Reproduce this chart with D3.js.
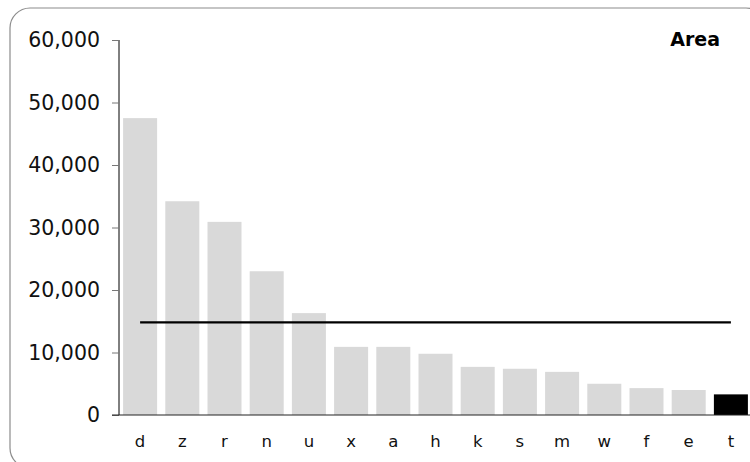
<!DOCTYPE html>
<html>
<head>
<meta charset="utf-8">
<script src="https://cdn.jsdelivr.net/npm/d3@7"></script>
<style>
  html, body { margin: 0; padding: 0; background: #fff; }
  svg { display: block; font-family: "DejaVu Sans", Verdana, sans-serif; }
</style>
</head>
<body>
<svg id="chart" width="750" height="462"></svg>
<script>
const categories = ["d","z","r","n","u","x","a","h","k","s","m","w","f","e","t"];
const areaValues = [47500,34200,30900,23000,16300,10900,10900,9800,7700,7400,6900,5000,4300,4000,3300];
const highlighted = ["t"];
const yTicks = [0,10000,20000,30000,40000,50000,60000];
const title = "Area";

const avg = d3.mean(areaValues);
const avgLine = categories.map(c => ({ cat: c, value: avg }));

const svg = d3.select("#chart");

// frame
svg.append("rect")
  .attr("x", 10).attr("y", 8)
  .attr("width", 756).attr("height", 460)
  .attr("rx", 20).attr("ry", 20)
  .attr("fill", "none")
  .attr("stroke", "#8c8c8c")
  .attr("stroke-width", 1.2);

const x = d3.scaleBand()
  .domain(categories)
  .range([119, 752])
  .paddingInner(0.194)
  .paddingOuter(0.097);

const y = d3.scaleLinear()
  .domain([0, 60000])
  .range([415, 40]);

// bars
svg.append("g").selectAll("rect")
  .data(categories)
  .join("rect")
  .attr("x", d => x(d))
  .attr("y", (d, i) => y(areaValues[i]))
  .attr("width", x.bandwidth())
  .attr("height", (d, i) => y(0) - y(areaValues[i]))
  .attr("fill", d => highlighted.includes(d) ? "#000" : "#d9d9d9");

// average line
svg.append("path")
  .datum(avgLine)
  .attr("fill", "none")
  .attr("stroke", "#000")
  .attr("stroke-width", 2.2)
  .attr("d", d3.line()
    .x(d => x(d.cat) + x.bandwidth() / 2)
    .y(d => y(d.value)));

// y axis
const yAxis = d3.axisLeft(y)
  .tickValues(yTicks)
  .tickFormat(d3.format(","))
  .tickSize(7)
  .tickPadding(12);
const gy = svg.append("g").attr("transform", "translate(119,0)").call(yAxis);
gy.select(".domain").attr("d", "M0,40V415").attr("stroke", "#000");
gy.selectAll(".tick line").attr("stroke", "#777");
gy.selectAll(".tick text")
  .attr("font-size", 20.5)
  .attr("font-family", "DejaVu Sans, Verdana, sans-serif")
  .attr("fill", "#111");

// x axis
const xAxis = d3.axisBottom(x).tickSize(0).tickPadding(20);
const gx = svg.append("g").attr("transform", "translate(0,415)").call(xAxis);
gx.select(".domain").attr("d", "M112,0H750").attr("stroke", "#222");
gx.selectAll(".tick text")
  .attr("font-size", 16.5)
  .attr("font-family", "DejaVu Sans, Verdana, sans-serif")
  .attr("fill", "#111");

// title
svg.append("text")
  .attr("x", 720).attr("y", 46)
  .attr("text-anchor", "end")
  .attr("font-size", 19)
  .attr("font-weight", "bold")
  .attr("fill", "#000")
  .text(title);
</script>
</body>
</html>
